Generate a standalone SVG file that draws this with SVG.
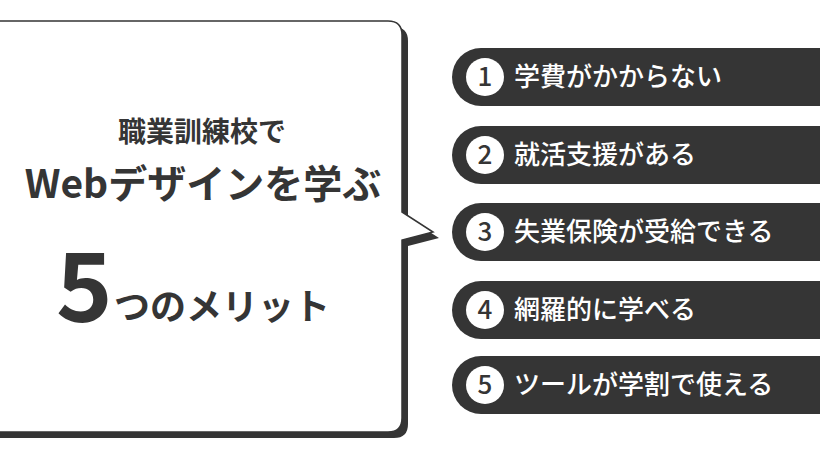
<svg xmlns="http://www.w3.org/2000/svg" width="820" height="460" viewBox="0 0 820 460">
<style>
text{font-family:"Noto Sans CJK JP","Noto Sans",sans-serif;font-weight:bold}
.pill{fill:#353535}
.dot{fill:#fff}
.num{fill:#353535;font-size:26px;text-anchor:middle;font-weight:500}
.lbl{fill:#fff;font-size:26px;font-weight:500}
.dk{fill:#353535}
</style>
<defs>
<path id="bub" d="M-20 21 H388 Q402 21 402 35 V212 L433 232 L402 240 V418 Q402 432 388 432 H-20 Z"/>
</defs>
<rect width="820" height="460" fill="#fff"/>
<g id="bubble">
<use href="#bub" transform="translate(6,6)" fill="#353535"/>
<use href="#bub" fill="#fff" stroke="#353535" stroke-width="1.5"/>
<text x="202" y="142" class="dk" font-size="28" font-weight="500" text-anchor="middle">職業訓練校で</text>
<text x="203" y="198" class="dk" font-size="39" font-weight="500" text-anchor="middle">Webデザインを学ぶ</text>
<text x="56" y="322" class="dk" font-size="96" font-family="Roboto,'Noto Sans',sans-serif">5</text>
<text x="114" y="320" class="dk" font-size="36">つのメリット</text>
</g>
<g id="item1"><rect class="pill" x="452" y="48" width="400" height="58" rx="29"/><circle class="dot" cx="485" cy="77" r="19"/><text class="num" x="485" y="86">1</text><text class="lbl" x="514" y="86">学費がかからない</text></g>
<g id="item2"><rect class="pill" x="452" y="126" width="400" height="58" rx="29"/><circle class="dot" cx="485" cy="155" r="19"/><text class="num" x="485" y="164">2</text><text class="lbl" x="514" y="164">就活支援がある</text></g>
<g id="item3"><rect class="pill" x="452" y="203" width="400" height="58" rx="29"/><circle class="dot" cx="485" cy="232" r="19"/><text class="num" x="485" y="241">3</text><text class="lbl" x="514" y="241">失業保険が受給できる</text></g>
<g id="item4"><rect class="pill" x="452" y="281" width="400" height="58" rx="29"/><circle class="dot" cx="485" cy="310" r="19"/><text class="num" x="485" y="319">4</text><text class="lbl" x="514" y="319">網羅的に学べる</text></g>
<g id="item5"><rect class="pill" x="452" y="356" width="400" height="58" rx="29"/><circle class="dot" cx="485" cy="385" r="19"/><text class="num" x="485" y="394">5</text><text class="lbl" x="514" y="394">ツールが学割で使える</text></g>
<g id="connectors"/>
</svg>
